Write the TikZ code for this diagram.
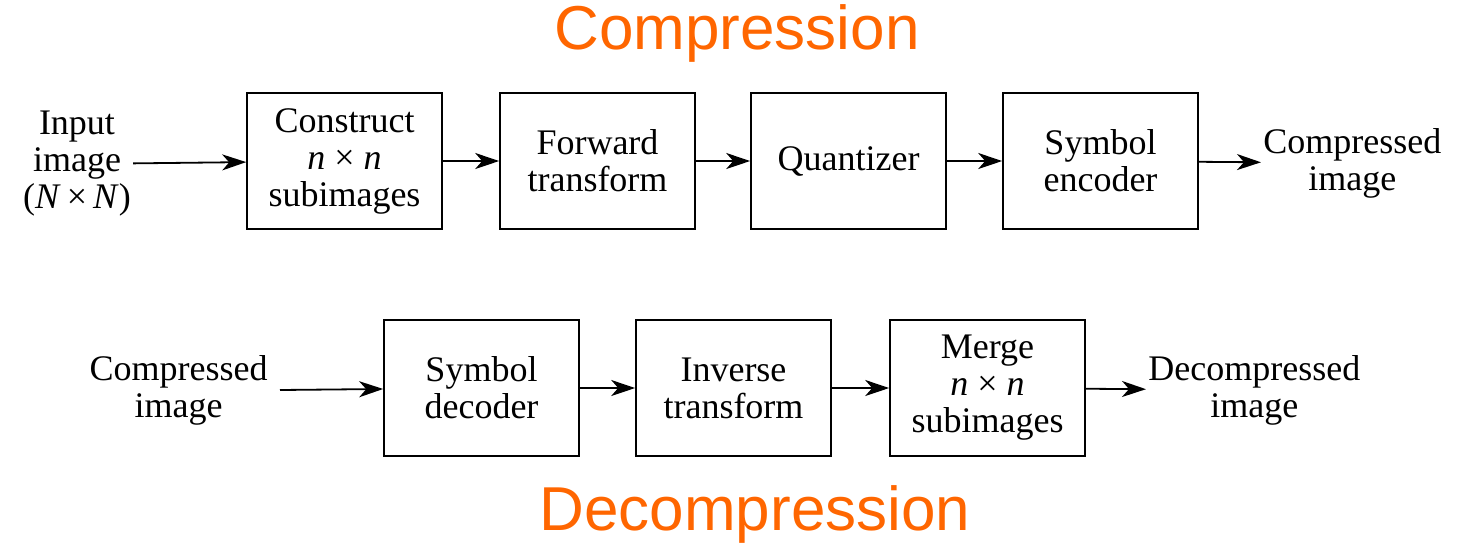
\documentclass[tikz,border=0pt]{standalone}
\usepackage{fontspec}
\setmainfont{Liberation Serif}
\newfontfamily\titlefont{Liberation Sans}
\usetikzlibrary{arrows.meta,positioning}
\definecolor{titleorange}{RGB}{255,102,0}

\begin{document}
\begin{tikzpicture}[x=0.5pt,y=-0.5pt,
    box/.style={draw,line width=0.8pt,minimum width=97.5pt,minimum height=68pt,
                align=center,font=\fontsize{18}{18.5}\selectfont},
    lbl/.style={align=center,inner sep=1pt,font=\fontsize{18}{18.5}\selectfont},
    ttl/.style={text=titleorange,font=\titlefont\fontsize{31}{34}\selectfont},
    flow/.style={-{Stealth[length=12pt,width=8pt,inset=3.5pt]},line width=0.9pt}]
    \useasboundingbox (0,0) rectangle (1458,548);

    % compression
    \node[ttl] (comp) at (737,33) {Compression};
    \node[lbl] (input) at (77,164) {Input\\image\\(\textit{N}\,×\,\textit{N})};
    \node[box] (construct) at (344.5,161) {Construct\\\textit{n} × \textit{n}\\subimages};
    \node[box] (forward) at (597.5,161) {Forward\\transform};
    \node[box] (quant) at (848.5,161) {Quantizer};
    \node[box] (encoder) at (1100.5,161) {Symbol\\encoder};
    \node[lbl,anchor=west] (cout) at (1261,163) {Compressed\\image};

    \draw[flow] (input) -- (construct);
    \draw[flow] (construct) -- (forward);
    \draw[flow] (forward) -- (quant);
    \draw[flow] (quant) -- (encoder);
    \draw[flow] (encoder) -- (cout);

    % decompression
    \node[lbl,anchor=east] (cin) at (270,390) {Compressed\\image};
    \node[box] (decoder) at (481.5,388) {Symbol\\decoder};
    \node[box] (inverse) at (733.5,388) {Inverse\\transform};
    \node[box] (merge) at (987.5,388) {Merge\\\textit{n} × \textit{n}\\subimages};
    \node[lbl,anchor=west] (dout) at (1146,390) {Decompressed\\image};
    \node[ttl] (decomp) at (755,514) {Decompression};

    \draw[flow] (cin.east) ++(10,0) coordinate (cinr) (cinr) -- (decoder);
    \draw[flow] (decoder) -- (inverse);
    \draw[flow] (inverse) -- (merge);
    \draw[flow] (merge) -- (dout);
\end{tikzpicture}
\end{document}
